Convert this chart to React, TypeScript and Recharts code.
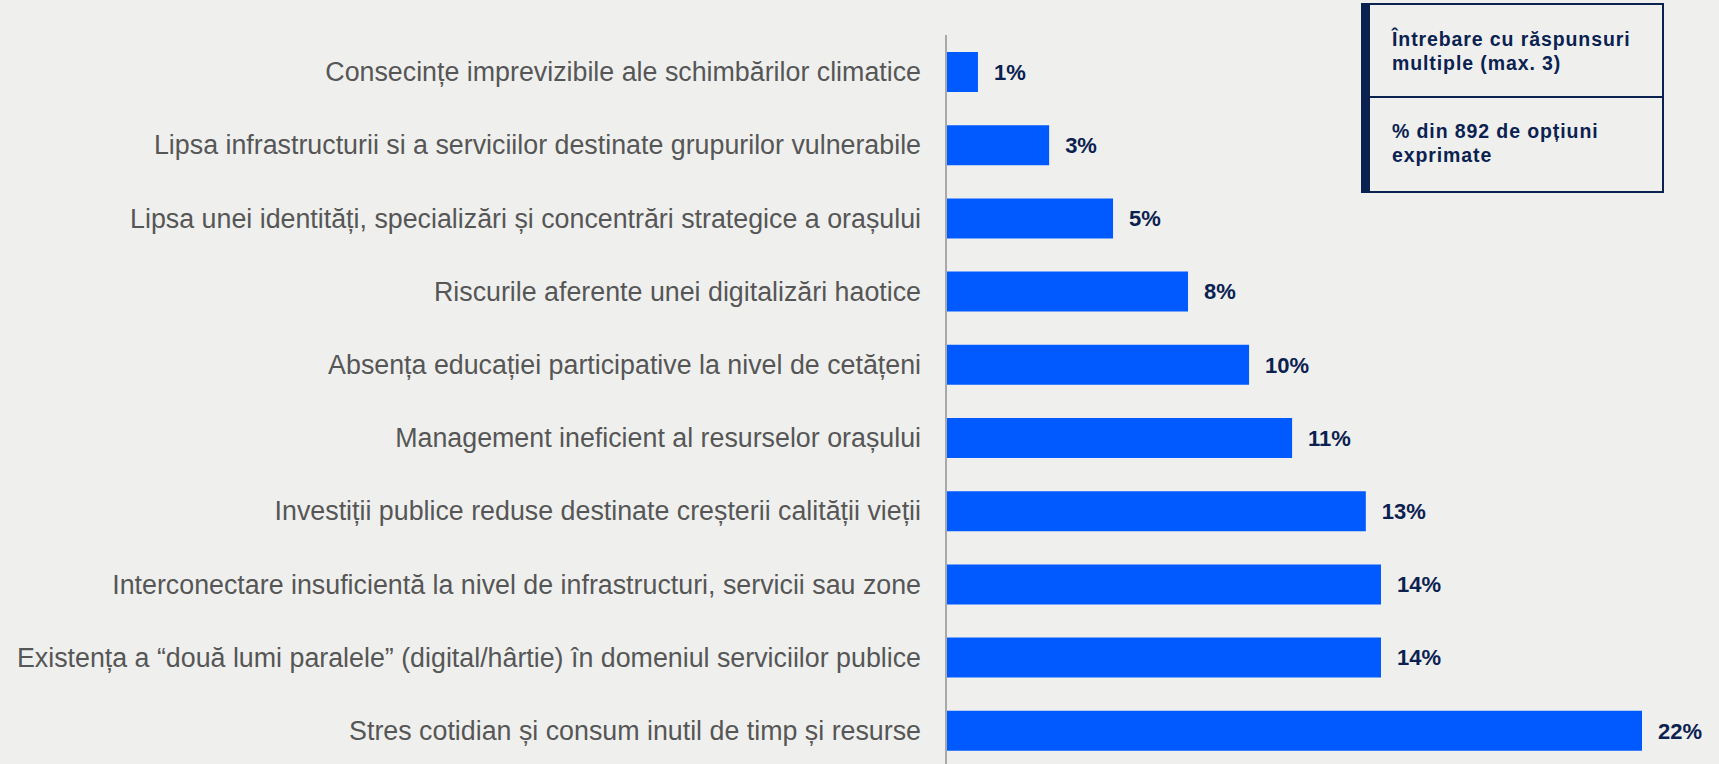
import React from "react";
import { BarChart, Bar, XAxis, YAxis, LabelList } from "recharts";

const categories = [
  "Consecințe imprevizibile ale schimbărilor climatice",
  "Lipsa infrastructurii si a serviciilor destinate grupurilor vulnerabile",
  "Lipsa unei identități, specializări și concentrări strategice a orașului",
  "Riscurile aferente unei digitalizări haotice",
  "Absența educației participative la nivel de cetățeni",
  "Management ineficient al resurselor orașului",
  "Investiții publice reduse destinate creșterii calității vieții",
  "Interconectare insuficientă la nivel de infrastructuri, servicii sau zone",
  "Existența a “două lumi paralele” (digital/hârtie) în domeniul serviciilor publice",
  "Stres cotidian și consum inutil de timp și resurse",
];
const values = [1.01, 3.26, 5.28, 7.65, 9.58, 10.94, 13.27, 13.75, 13.75, 22.0];
const valueLabels = ["1%", "3%", "5%", "8%", "10%", "11%", "13%", "14%", "14%", "22%"];
const noteLines1 = ["Întrebare cu răspunsuri", "multiple (max. 3)"];
const noteLines2 = ["% din 892 de opțiuni", "exprimate"];

const data = categories.map((c, i) => ({ name: c, value: values[i], label: valueLabels[i] }));

const FONT = '"Liberation Sans", Arial, Helvetica, sans-serif';
const NAVY = "#0b2150";

export default function App() {
  return (
    <div
      style={{
        position: "absolute",
        left: 0,
        top: 0,
        width: 1719,
        height: 764,
        overflow: "hidden",
        background: "#eff0ee",
        fontFamily: FONT,
      }}
    >
      <BarChart
        width={1719}
        height={768}
        data={data}
        layout="vertical"
        margin={{ top: 35, right: 77, bottom: 1, left: 0 }}
      >
        <XAxis type="number" domain={[0, 22]} hide />
        <YAxis
          type="category"
          dataKey="name"
          width={946}
          tickLine={false}
          tickSize={0}
          tickMargin={25}
          axisLine={{ stroke: "#a9a9a9", strokeWidth: 2 }}
          tick={{ fill: "#565656", fontSize: 26.8, fontFamily: FONT }}
          interval={0}
        />
        <Bar dataKey="value" fill="#005aff" barSize={40} isAnimationActive={false}>
          <LabelList
            dataKey="label"
            position="right"
            offset={16}
            style={{ fill: NAVY, fontSize: 22, fontWeight: 700, fontFamily: FONT }}
          />
        </Bar>
      </BarChart>
      <div
        style={{
          position: "absolute",
          left: 1361,
          top: 3,
          width: 292,
          height: 186,
          borderLeft: `9px solid ${NAVY}`,
          borderTop: `2px solid ${NAVY}`,
          borderRight: `2px solid ${NAVY}`,
          borderBottom: `2px solid ${NAVY}`,
          color: NAVY,
          fontWeight: 700,
          fontSize: 19.5,
          letterSpacing: 0.9,
          lineHeight: "24px",
        }}
      >
        <div style={{ height: 93, borderBottom: `2px solid ${NAVY}`, boxSizing: "border-box", paddingLeft: 22, paddingTop: 22 }}>
          {noteLines1.map((t) => (
            <div key={t}>{t}</div>
          ))}
        </div>
        <div style={{ paddingLeft: 22, paddingTop: 21 }}>
          {noteLines2.map((t) => (
            <div key={t}>{t}</div>
          ))}
        </div>
      </div>
    </div>
  );
}
